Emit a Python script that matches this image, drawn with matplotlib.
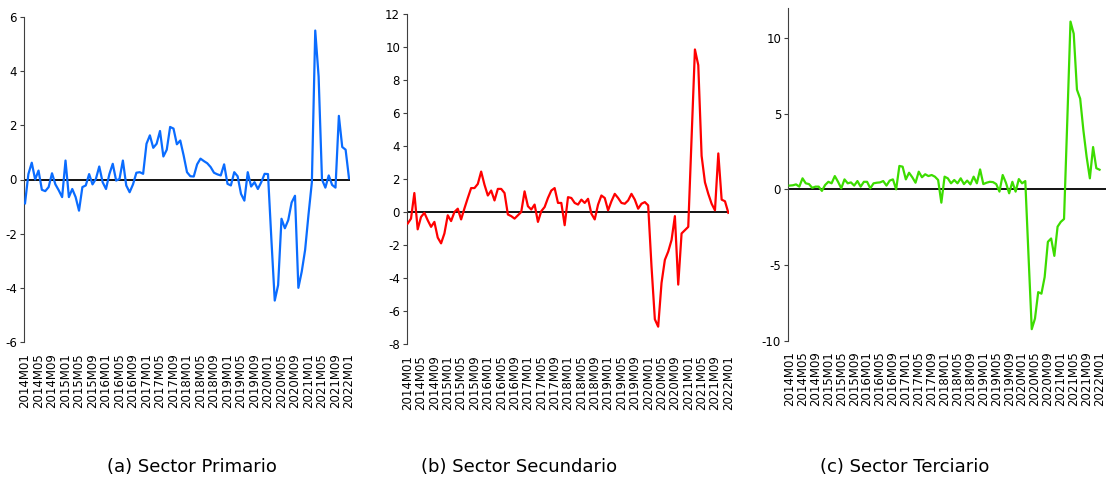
import matplotlib
matplotlib.use("Agg")
import matplotlib.pyplot as plt
import numpy as np

# Monthly data 2014M01 .. 2022M01
months = [f"{y}M{m:02d}" for y in range(2014, 2023) for m in range(1, 13)][:97]

primario = [-0.88, 0.2, 0.62, 0.0, 0.33, -0.38, -0.43, -0.28, 0.23, -0.18,
            -0.4, -0.65, 0.7, -0.65, -0.35, -0.65, -1.15, -0.28, -0.22, 0.2,
            -0.18, 0.02, 0.48, -0.1, -0.35, 0.2, 0.58, -0.04, 0.02, 0.7,
            -0.22, -0.47, -0.18, 0.25, 0.27, 0.21, 1.32, 1.63, 1.17, 1.32,
            1.79, 0.85, 1.1, 1.94, 1.88, 1.3, 1.44, 0.89, 0.27, 0.12,
            0.11, 0.56, 0.77, 0.68, 0.6, 0.46, 0.25, 0.19, 0.15, 0.56,
            -0.16, -0.22, 0.27, 0.12, -0.53, -0.78, 0.27, -0.26, -0.1, -0.35,
            -0.1, 0.21, 0.2, -2.2, -4.47, -3.9, -1.45, -1.8, -1.5, -0.85,
            -0.6, -4.0, -3.4, -2.6, -1.3, -0.1, 5.5, 3.8, 0.0, -0.3,
            0.15, -0.2, -0.3, 2.35, 1.2, 1.1, 0.05]

secundario = [-0.7, -0.4, 1.15, -1.05, -0.3, -0.05, -0.5, -0.9, -0.6, -1.55,
              -1.9, -1.3, -0.2, -0.55, 0.0, 0.2, -0.45, 0.22, 0.85, 1.45,
              1.45, 1.7, 2.45, 1.65, 1.0, 1.3, 0.7, 1.4, 1.4, 1.15,
              -0.15, -0.25, -0.4, -0.2, 0.0, 1.25, 0.35, 0.15, 0.45, -0.6,
              0.05, 0.3, 0.85, 1.3, 1.45, 0.55, 0.55, -0.8, 0.9, 0.85,
              0.55, 0.45, 0.75, 0.55, 0.8, -0.1, -0.45, 0.45, 1.0, 0.85,
              0.1, 0.65, 1.1, 0.85, 0.55, 0.5, 0.7, 1.1, 0.75, 0.2,
              0.5, 0.6, 0.4, -3.3, -6.5, -6.95, -4.3, -2.9, -2.4, -1.7,
              -0.25, -4.4, -1.3, -1.1, -0.9, 4.5, 9.85, 8.9, 3.4, 1.8,
              1.1, 0.5, 0.1, 3.55, 0.75, 0.65, -0.05]

terciario = [0.25, 0.27, 0.33, 0.18, 0.73, 0.4, 0.35, 0.1, 0.18, 0.18,
             -0.1, 0.29, 0.5, 0.4, 0.88, 0.5, 0.07, 0.66, 0.4, 0.46,
             0.25, 0.55, 0.18, 0.5, 0.5, 0.07, 0.4, 0.44, 0.46, 0.55,
             0.25, 0.58, 0.66, 0.0, 1.55, 1.5, 0.66, 1.1, 0.8, 0.44,
             1.17, 0.8, 1.0, 0.88, 0.95, 0.84, 0.62, -0.88, 0.84, 0.73,
             0.4, 0.62, 0.4, 0.73, 0.35, 0.58, 0.33, 0.84, 0.4, 1.32,
             0.35, 0.44, 0.5, 0.48, 0.35, -0.15, 0.95, 0.44, -0.26, 0.5,
             -0.15, 0.68, 0.4, 0.55, -4.4, -9.25, -8.55, -6.8, -6.9, -5.8,
             -3.47, -3.25, -4.4, -2.47, -2.15, -1.96, 4.5, 11.1, 10.3, 6.6,
             6.0, 3.9, 2.15, 0.73, 2.8, 1.4, 1.3]

captions = ["(a) Sector Primario", "(b) Sector Secundario", "(c) Sector Terciario"]
series = [primario, secundario, terciario]
colors = ["#0A6CFF", "#FF0000", "#3CDC00"]
ylims = [(-6, 6), (-8, 12), (-10, 12)]
yticks = [np.arange(-6, 7, 2), np.arange(-8, 13, 2), [-10, -5, 0, 5, 10]]

W, H = 1106, 483
fig = plt.figure(figsize=(W / 100, H / 100), dpi=100)

# pixel boxes: left, right, top, bottom
boxes = [(24, 350, 17, 342), (407, 729, 14, 344), (788, 1106, 8, 340.5)]
xlims = [(-0.3, 96.3), (-0.2, 96.2), (-0.5, 98.0)]
cap_x = [192, 519, 905]

ynarrow = ["Liberation Sans Narrow", "DejaVu Sans"]

for k in range(3):
    l, r, t, b = boxes[k]
    ax = fig.add_axes([l / W, 1 - b / H, (r - l) / W, (b - t) / H])
    x = np.arange(len(series[k]))
    ax.plot(x, series[k], color=colors[k], lw=1.6, solid_joinstyle="round", zorder=3)
    ax.axhline(0, color="black", lw=1.3, zorder=2)
    ax.set_xlim(*xlims[k])
    ax.set_ylim(*ylims[k])
    for s in ["top", "right", "bottom"]:
        ax.spines[s].set_visible(False)
    ax.spines["left"].set_color("#404040")
    ax.spines["left"].set_linewidth(0.8)
    ax.set_yticks(yticks[k])
    ax.set_yticklabels([str(v) for v in yticks[k]], family=ynarrow, fontsize=8.5)
    ax.tick_params(axis="y", length=3, width=0.8, color="#404040", pad=2)
    xt = list(range(0, 97, 4))
    ax.set_xticks(xt)
    ax.set_xticklabels([months[i] for i in xt], rotation=90, fontsize=8.5,
                       family="DejaVu Sans", va="top")
    ax.tick_params(axis="x", length=0, pad=8)
    ax.patch.set_visible(False)
    fig.text(cap_x[k] / W, 1 - 467 / H, captions[k], ha="center", va="center",
             fontsize=13, family="DejaVu Sans")

fig.savefig("out.png", dpi=100)
